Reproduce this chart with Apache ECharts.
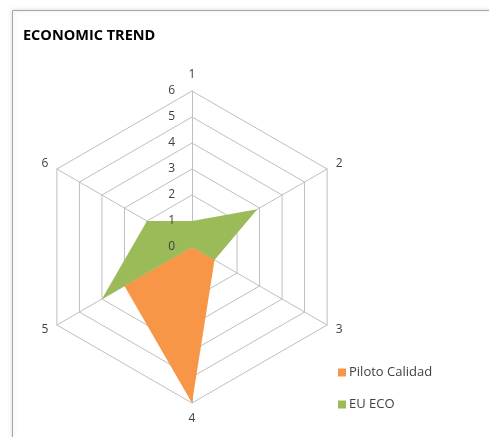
<!DOCTYPE html>
<html><head><meta charset="utf-8">
<script src="https://cdn.jsdelivr.net/npm/echarts@6/dist/echarts.min.js"></script>
<style>html,body{margin:0;padding:0;background:#fff}#c{width:489px;height:437px}</style>
</head><body><div id="c"></div>
<script>
var categories = ['1', '2', '3', '4', '5', '6'];
var seriesNames = ['Piloto Calidad', 'EU ECO'];
var pilotoCalidad = [0, 0, 1, 6, 3, 0];
var euEco = [1, 2.9, 1, 0, 4, 2];
var tickMax = 6;

// ECharts radar runs counter-clockwise; reorder so categories go clockwise from top
var order = [0, 5, 4, 3, 2, 1];
function reorder(a) { return order.map(function (i) { return a[i]; }); }

function makeIndicators(withLabel) {
  return reorder(categories).map(function (c, k) {
    var ind = { name: c, max: tickMax, min: 0 };
    if (withLabel && k === 0) ind.axisLabel = { show: true };
    return ind;
  });
}

var labelFont = { color: '#404040', fontFamily: 'Open Sans', fontSize: 12 };

var chart = echarts.init(document.getElementById('c'));
chart.setOption({
  animation: false,
  backgroundColor: '#ffffff',
  graphic: [{
    type: 'rect', left: 12, top: 10, z: -1,
    shape: { width: 500, height: 460 },
    style: { fill: '#fff', stroke: '#a6a6a6', lineWidth: 1, shadowBlur: 5, shadowColor: 'rgba(0,0,0,0.18)' }
  }],
  title: {
    text: 'ECONOMIC TREND', left: 18, top: 23,
    textStyle: { fontFamily: 'Open Sans', fontWeight: 'bold', fontSize: 14.5, color: '#000' }
  },
  legend: {
    orient: 'vertical', left: 333, top: 361,
    itemWidth: 8, itemHeight: 8, itemGap: 19,
    icon: 'rect',
    data: seriesNames,
    textStyle: { fontFamily: 'Open Sans', fontSize: 13, color: '#404040', padding: [0, 0, 0, -2] }
  },
  radar: [{
    z: 1,
    center: [192, 247],
    radius: 156,
    startAngle: 90,
    shape: 'polygon',
    splitNumber: 6,
    nameGap: 10,
    axisName: labelFont,
    splitLine: { lineStyle: { color: '#bfbfbf', width: 1 } },
    splitArea: { show: false },
    axisLine: { lineStyle: { color: '#bfbfbf', width: 1 } },
    axisTick: { show: false },
    axisLabel: { show: false },
    indicator: makeIndicators(false)
  }, {
    z: 5,
    center: [192, 247],
    radius: 156,
    startAngle: 90,
    shape: 'polygon',
    splitNumber: 6,
    axisName: { show: false },
    splitLine: { show: false },
    splitArea: { show: false },
    axisLine: { show: false },
    axisTick: { show: false },
    axisLabel: { show: false, color: '#404040', fontFamily: 'Open Sans', fontSize: 12, margin: 17, showMinLabel: true },
    indicator: makeIndicators(true)
  }],
  series: [{
    type: 'radar',
    radarIndex: 0,
    z: 2,
    symbol: 'none',
    data: [
      { name: seriesNames[0], value: reorder(pilotoCalidad),
        itemStyle: { color: '#F79646' }, lineStyle: { width: 0, color: '#F79646' }, areaStyle: { color: '#F79646', opacity: 1 } },
      { name: seriesNames[1], value: reorder(euEco),
        itemStyle: { color: '#9BBB59' }, lineStyle: { width: 0, color: '#9BBB59' }, areaStyle: { color: '#9BBB59', opacity: 1 } }
    ]
  }]
});
</script></body></html>
